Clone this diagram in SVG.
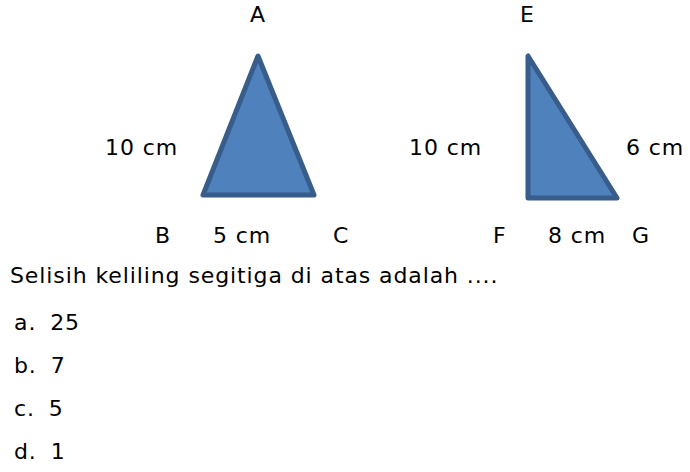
<svg xmlns="http://www.w3.org/2000/svg" width="690" height="472" viewBox="0 0 690 472">
<style>
text{font-family:"DejaVu Sans",Verdana,sans-serif;font-size:22px;letter-spacing:0.9px;fill:#000}
.opt{word-spacing:6px}
.tri{fill:#4f81bd;stroke:#385d8a;stroke-width:5;stroke-linejoin:round}
</style>
<rect width="690" height="472" fill="#fff"/>
<g id="triangle-ABC">
<polygon class="tri" points="258,56 203,195 314,195"/>
</g>
<g id="triangle-EFG">
<polygon class="tri" points="528,56 528,198 617,198"/>
</g>
<g id="labels">
<text x="250" y="22">A</text>
<text x="520" y="22">E</text>
<text x="105" y="155">10 cm</text>
<text x="409" y="155">10 cm</text>
<text x="626" y="155">6 cm</text>
<text x="155" y="243">B</text>
<text x="213" y="243">5 cm</text>
<text x="333" y="243">C</text>
<text x="493" y="243">F</text>
<text x="548" y="243">8 cm</text>
<text x="632" y="243">G</text>
</g>
<g id="question">
<text x="10" y="283">Selisih keliling segitiga di atas adalah ....</text>
<text class="opt" x="14" y="330">a. 25</text>
<text class="opt" x="14" y="373">b. 7</text>
<text class="opt" x="14" y="416">c. 5</text>
<text class="opt" x="14" y="459">d. 1</text>
</g>
</svg>
